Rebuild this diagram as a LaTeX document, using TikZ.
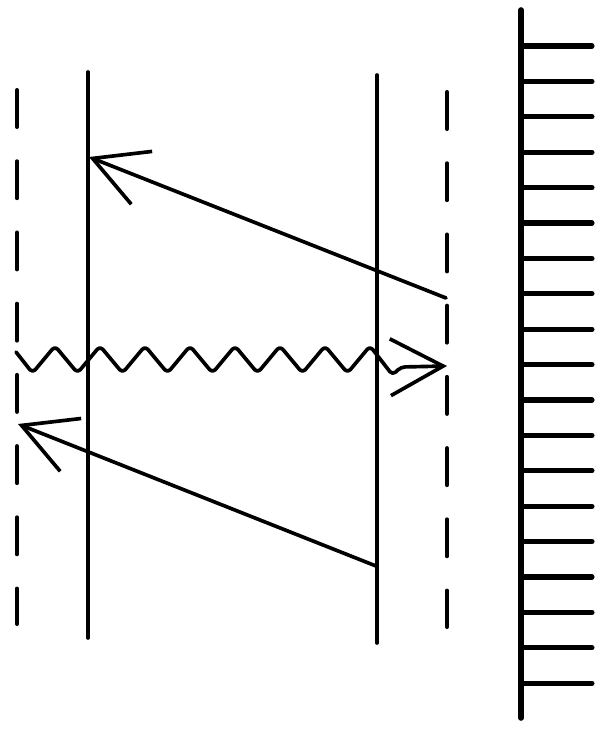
\documentclass[tikz,border=0pt]{standalone}
\usepackage{tikz}
\usetikzlibrary{arrows.meta}

\tikzset{
    barb/.style={-{Straight Barb[length=1.32cm,width=1.42cm]}},
    mirror/.style={line width=2.8pt,dash pattern=on 0.925cm off 0.855cm},
}

\begin{document}
\begin{tikzpicture}[x=0.025cm,y=-0.025cm,line width=2.6pt,line cap=round,line join=round]
    \useasboundingbox (0,0) rectangle (607,737);
    % dashed lines
    \draw[mirror] (17,90)--(17,624);
    \draw[mirror] (447,92)--(447,627);
    % solid lines
    \draw (88,72)--(88,638);
    \draw (377,75)--(377,643);
    % ruler
    \draw[line width=4pt] (521,10)--(521,718);
    \foreach \i in {0,...,18}
        \draw[line width=3.6pt] (521,{46+35.4*\i})--(592,{46+35.4*\i});
    % rays
    \coordinate (tailA) at (446,298);
    \coordinate (tipA) at (89,157);
    \coordinate (tailB) at (376,566);
    \coordinate (tipB) at (18,424);
    \coordinate (waveA) at (16,352);
    \coordinate (waveB) at (447,366);
    \draw[barb] (tailA)--(tipA);
    \draw[barb] (tailB)--(tipB);
    \draw[barb,rounded corners=3pt] (waveA)
        \foreach \k in {0,...,7} { -- ({32.5+45*\k},373) -- ({55+45*\k},346) }
        -- (392.5,375) -- (401,367) -- (waveB);
\end{tikzpicture}
\end{document}
